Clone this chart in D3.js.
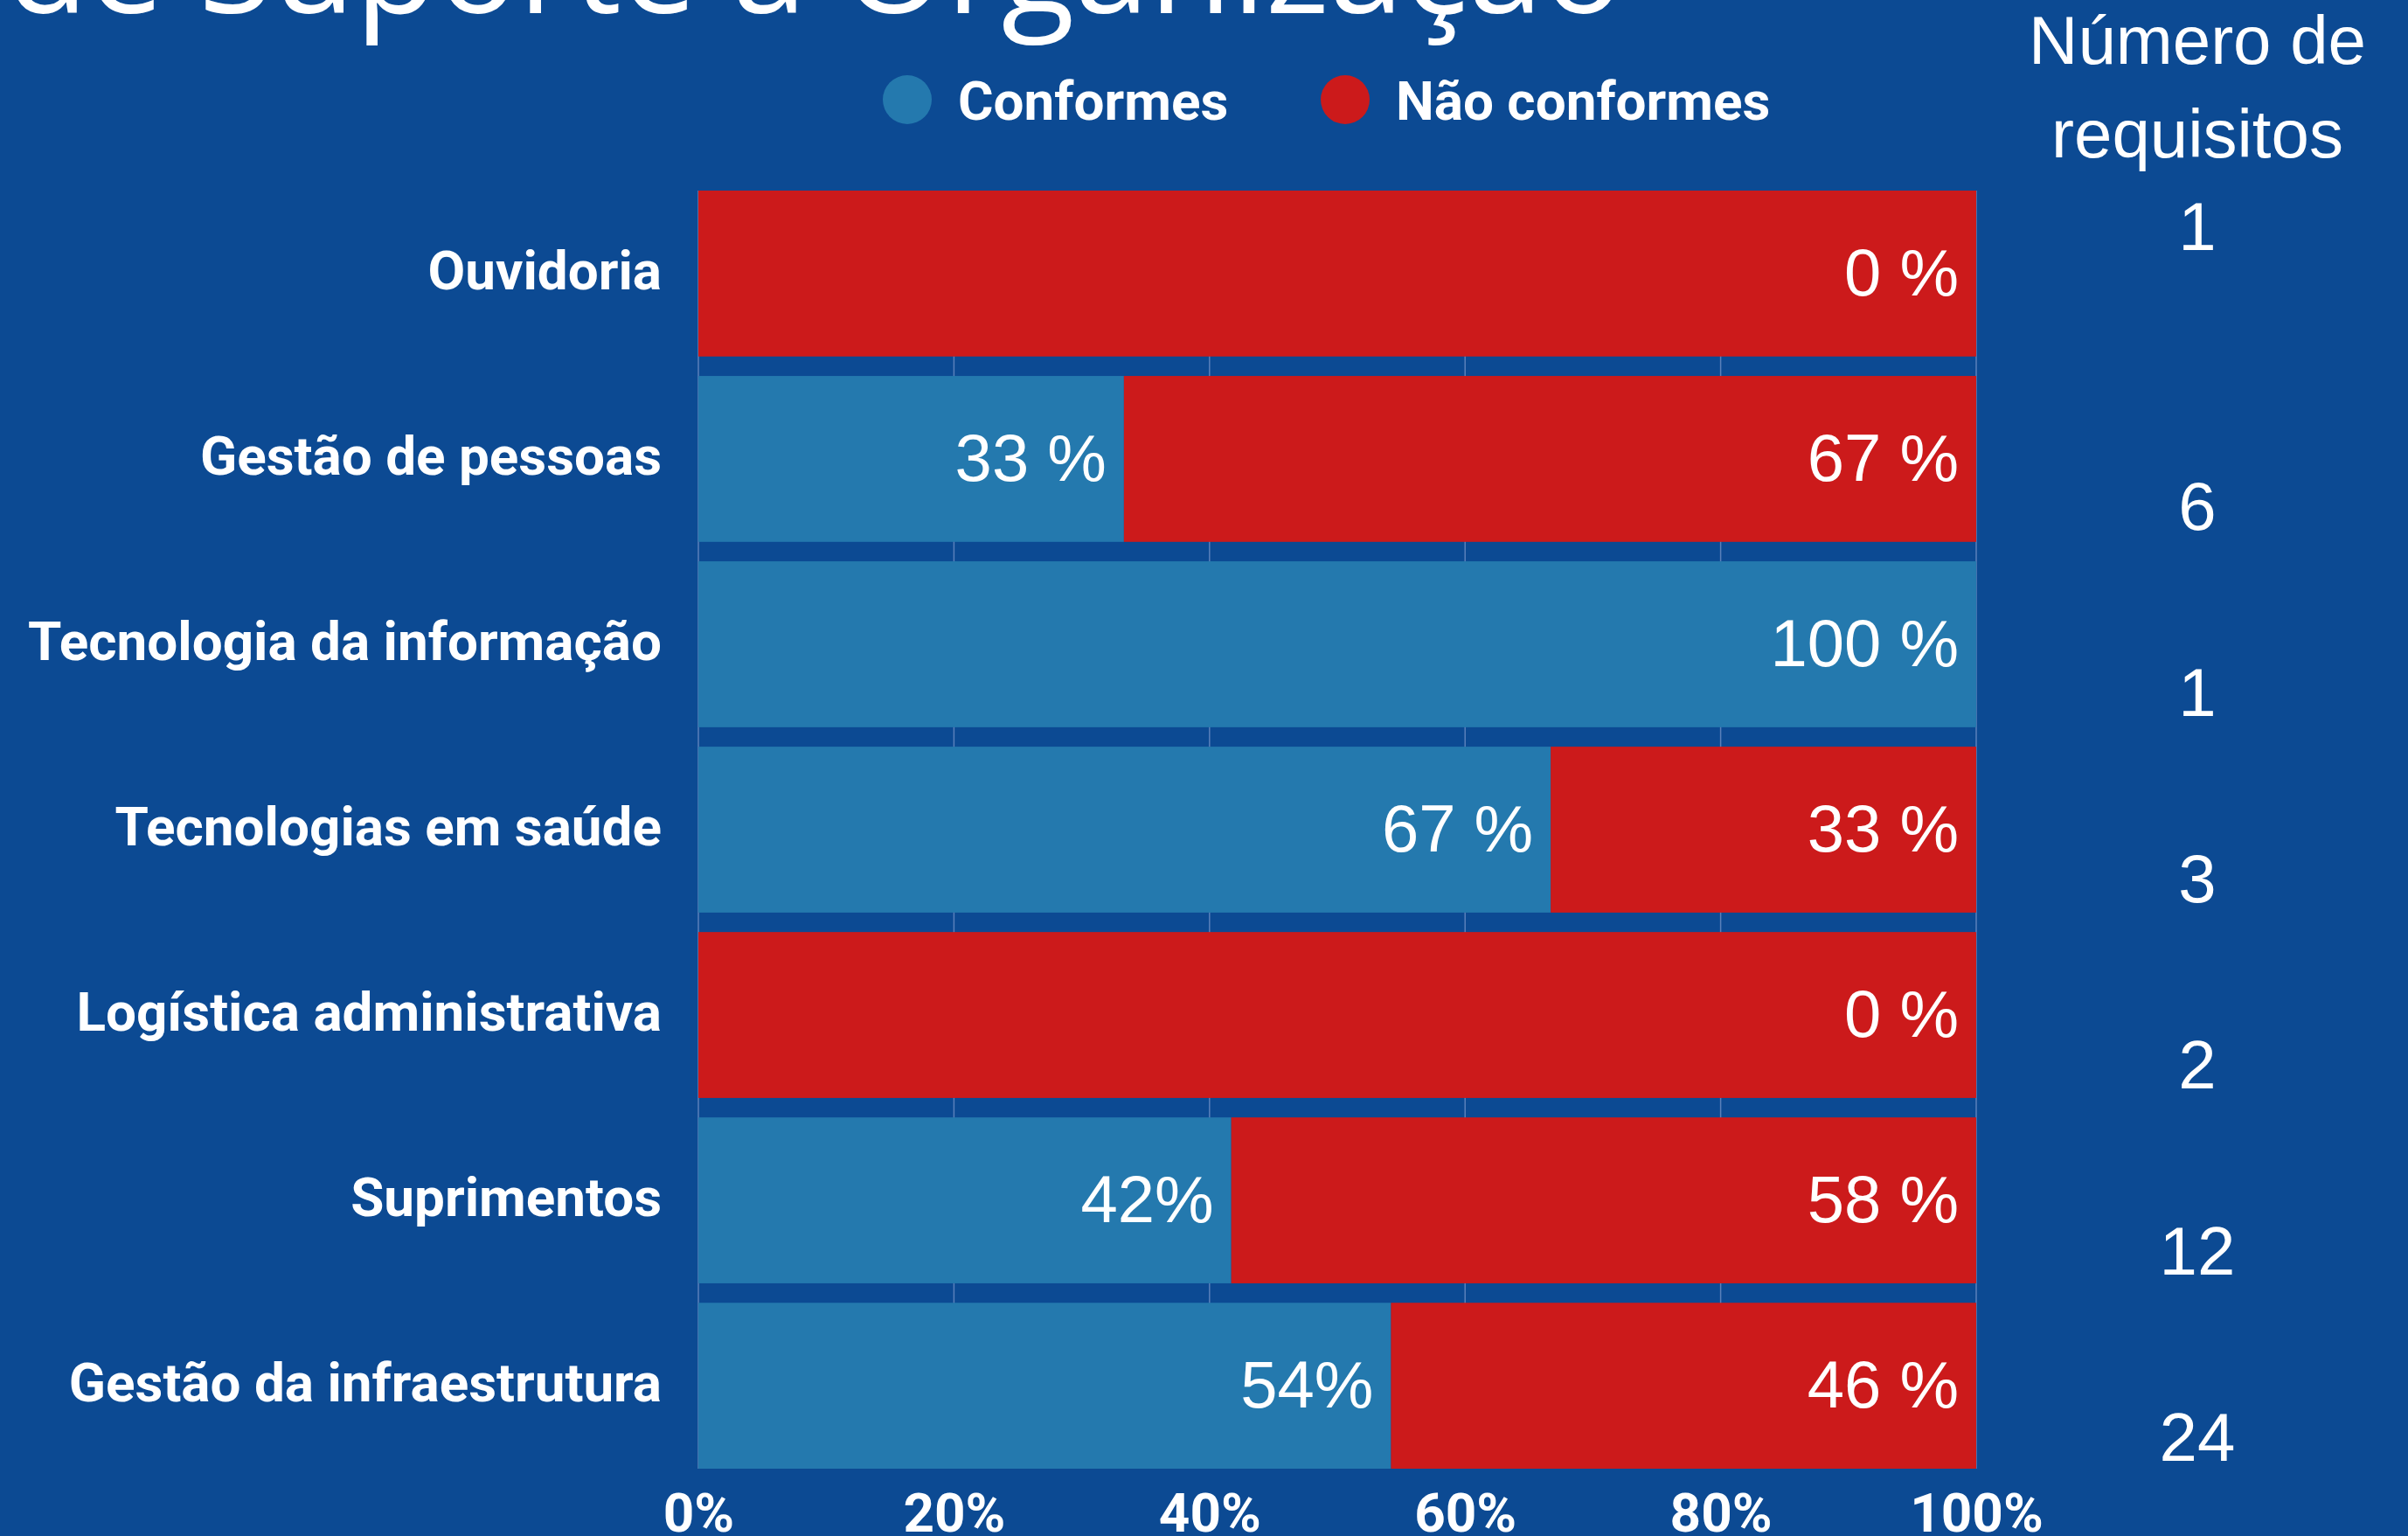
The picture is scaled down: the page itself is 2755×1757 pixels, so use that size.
<!DOCTYPE html>
<html>
<head>
<meta charset="utf-8">
<script src="https://cdn.jsdelivr.net/npm/d3@7"></script>
<style>
  html, body { margin: 0; padding: 0; background: #0c4a93; }
  svg { display: block; }
</style>
</head>
<body>
<svg id="chart" width="2755" height="1757"></svg>
<script>
// ---- data ----
const categories = ["Ouvidoria", "Gestão de pessoas", "Tecnologia da informação", "Tecnologias em saúde", "Logística administrativa", "Suprimentos", "Gestão da infraestrutura"];
const conformes = [0, 33.3, 100, 66.7, 0, 41.7, 54.2];
const naoConformes = [100, 66.7, 0, 33.3, 100, 58.3, 45.8];
const conformesLabels = ["", "33 %", "100 %", "67 %", "", "42%", "54%"];
const naoConformesLabels = ["0 %", "67 %", "", "33 %", "0 %", "58 %", "46 %"];
const numeroRequisitos = [1, 6, 1, 3, 2, 12, 24];
const xTicks = [0, 20, 40, 60, 80, 100];
const seriesNames = ["Conformes", "Não conformes"];
const headerLines = ["Número de", "requisitos"];
const titleText = "de Suporte à Organização";

// ---- style ----
const BG = "#0c4a93", BLUE = "#2479ae", RED = "#cc1a1b", GRID = "#5a80ba";
const BOLD = "Roboto, 'Liberation Sans', sans-serif";
const PLAIN = "'Liberation Sans', Arial, sans-serif";

const svg = d3.select("#chart");
svg.append("rect").attr("width", 2755).attr("height", 1757).attr("fill", BG);

const x = d3.scaleLinear().domain([0, 100]).range([799, 2261]);
const y = d3.scaleBand().domain(categories).range([218, 1680]).paddingInner(0.105).paddingOuter(0);
const color = d3.scaleOrdinal().domain(seriesNames).range([BLUE, RED]);

// title (partially cut off at top)
svg.append("text")
  .attr("x", 1858).attr("y", 15)
  .attr("text-anchor", "end")
  .attr("font-family", "'Open Sans', sans-serif")
  .attr("font-size", 154)
  .attr("fill", "#fff")
  .text(titleText);

// gridlines
svg.append("g").selectAll("line").data(xTicks).join("line")
  .attr("x1", d => x(d)).attr("x2", d => x(d))
  .attr("y1", y.range()[0]).attr("y2", y.range()[1])
  .attr("stroke", GRID).attr("stroke-width", 1.5);

// stacked bars
const rows = categories.map((c, i) => ({ cat: c, conf: conformes[i], nao: naoConformes[i], cl: conformesLabels[i], nl: naoConformesLabels[i] }));
const stack = d3.stack().keys(["conf", "nao"]);
const stacked = stack(rows);
svg.append("g").selectAll("g").data(stacked).join("g")
  .attr("fill", (d, i) => color(seriesNames[i]))
  .selectAll("rect").data(d => d).join("rect")
  .attr("x", d => x(d[0]))
  .attr("width", d => Math.max(0, x(d[1]) - x(d[0])))
  .attr("y", d => y(d.data.cat))
  .attr("height", y.bandwidth());

// value labels
const lab = svg.append("g")
  .attr("font-family", PLAIN).attr("font-size", 76).attr("fill", "#fff")
  .attr("text-anchor", "end");
stacked.forEach((s, si) => {
  lab.selectAll(null).data(s.filter(d => (si === 0 ? d.data.cl : d.data.nl))).join("text")
    .attr("x", d => x(d[1]) - 20)
    .attr("y", d => y(d.data.cat) + y.bandwidth() / 2 + 25)
    .text(d => si === 0 ? d.data.cl : d.data.nl);
});

// category labels
svg.append("g").selectAll("text").data(categories).join("text")
  .attr("x", 757)
  .attr("y", d => y(d) + y.bandwidth() / 2 - 4)
  .attr("dy", "0.36em")
  .attr("text-anchor", "end")
  .attr("font-family", BOLD).attr("font-weight", 700).attr("font-size", 62)
  .attr("fill", "#fff")
  .text(d => d);

// x axis
const xAxis = d3.axisBottom(x).tickValues(xTicks).tickFormat(d => d + "%").tickSize(0).tickPadding(0);
const gx = svg.append("g").attr("transform", "translate(0,1700)").call(xAxis);
gx.select(".domain").remove();
gx.selectAll("text")
  .attr("font-family", BOLD).attr("font-weight", 700).attr("font-size", 62)
  .attr("fill", "#fff").attr("dy", "0").attr("y", 52);

// legend
const legend = svg.append("g");
const legendX = [1038, 1539];
seriesNames.forEach((n, i) => {
  legend.append("circle").attr("cx", legendX[i]).attr("cy", 114).attr("r", 28).attr("fill", color(n));
  legend.append("text").attr("x", legendX[i] + 58).attr("y", 137)
    .attr("font-family", BOLD).attr("font-weight", 700).attr("font-size", 62)
    .attr("fill", "#fff").text(n);
});

// right column: header + number of requirements
const lineY = d3.scaleLinear().domain([0, 1]).range([73, 179.5]);
const right = svg.append("g").attr("font-family", PLAIN).attr("font-size", 78)
  .attr("fill", "#fff").attr("text-anchor", "middle");
right.selectAll("text.h").data(headerLines).join("text").attr("class", "h")
  .attr("x", 2514).attr("y", (d, i) => lineY(i)).text(d => d);
right.selectAll("text.n").data(numeroRequisitos).join("text").attr("class", "n")
  .attr("x", 2514).attr("y", (d, i) => lineY(i === 0 ? 2 : 2 * i + 3)).text(d => d);
</script>
</body>
</html>
